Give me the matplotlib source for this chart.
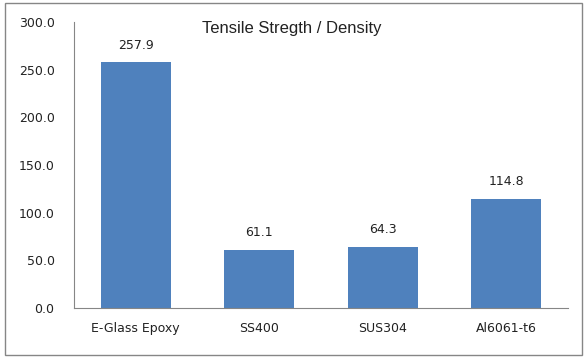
import matplotlib
matplotlib.use("Agg")
import matplotlib.pyplot as plt
from matplotlib.patches import Rectangle

materials = ["E-Glass Epoxy", "SS400", "SUS304", "Al6061-t6"]
strength_density = [257.9, 61.1, 64.3, 114.8]
y_ticks = [0, 50, 100, 150, 200, 250, 300]

plt.rcParams["font.family"] = ["DejaVu Sans"]

fig = plt.figure(figsize=(5.88, 3.6), dpi=100)
fig.patches.append(Rectangle((5 / 588, 5 / 360), 577 / 588, 352 / 360,
                             transform=fig.transFigure, fill=False,
                             edgecolor="#868686", linewidth=1.0))
ax = fig.add_axes([74 / 588, 1 - 308 / 360, 494 / 588, 286 / 360])

x = range(len(materials))
bars = ax.bar(x, strength_density, width=0.57, color="#4F81BD")
for b, v in zip(bars, strength_density):
    ax.text(b.get_x() + b.get_width() / 2, v + 11, f"{v:.1f}",
            ha="center", va="bottom", fontsize=9, color="#222222")

ax.set_xlim(-0.5, len(materials) - 0.5)
ax.set_ylim(0, 300)
ax.set_yticks(y_ticks)
ax.set_yticklabels([f"{t:.1f}" for t in y_ticks])
ax.set_xticks(list(x))
ax.set_xticklabels(materials)
ax.tick_params(axis="both", length=0, labelsize=9, colors="#222222")
ax.tick_params(axis="x", pad=10)
ax.tick_params(axis="y", pad=14)
for s in ("top", "right"):
    ax.spines[s].set_visible(False)
for s in ("left", "bottom"):
    ax.spines[s].set_color("#868686")

fig.text(292 / 588, 1 - 28 / 360, "Tensile Stregth / Density",
         ha="center", va="center", fontsize=12,
         family=["Liberation Sans", "DejaVu Sans"], color="#222222")

fig.savefig("out.png", dpi=100)
